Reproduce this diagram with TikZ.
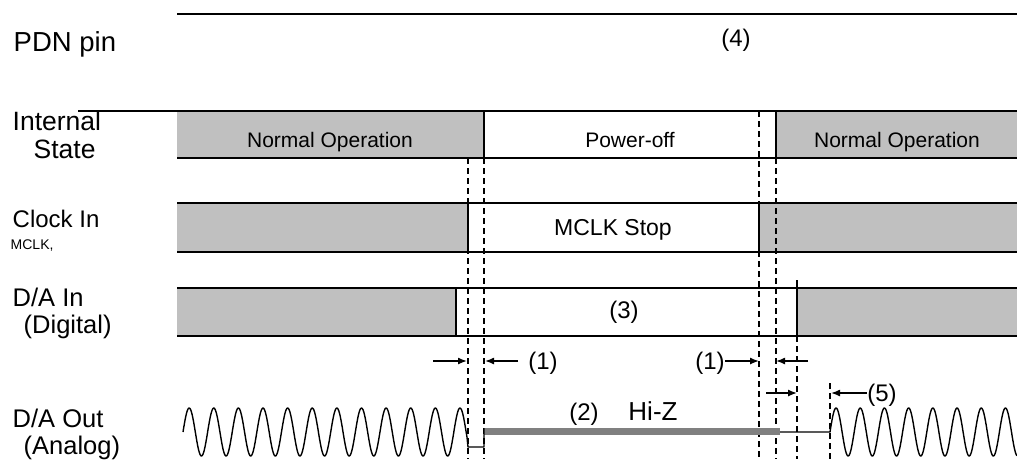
\documentclass[tikz,border=0pt]{standalone}
\usepackage{fontspec}
\setmainfont{Liberation Sans}
\usetikzlibrary{arrows.meta}
\definecolor{boxgray}{HTML}{C0C0C0}
\definecolor{hizgray}{HTML}{808080}

\begin{document}
\begin{tikzpicture}[x=1pt, y=-1pt, line width=1.4pt]
    \tikzstyle{lbl} += [inner sep=0pt, anchor=base west, font=\fontsize{25.5}{30}\selectfont];
    \tikzstyle{boxtxt} += [inner sep=0pt, anchor=base, font=\fontsize{21}{25}\selectfont];
    \tikzstyle{note} += [inner sep=0pt, font=\fontsize{24}{29}\selectfont];
    \tikzstyle{guide} += [dash pattern=on 6pt off 4pt, line width=1.2pt];
    \tikzstyle{dim} += [-{Latex[length=9pt, width=7pt]}, line width=1.4pt];
    \useasboundingbox (0,0) rectangle (1017,459);

    % signal names
    \node[lbl, font=\fontsize{27.5}{32}\selectfont] (pdn) at (13,51) {PDN pin};
    \node[lbl, font=\fontsize{26.5}{31}\selectfont] (intl) at (12,130) {Internal};
    \node[lbl, font=\fontsize{26.5}{31}\selectfont] (state) at (33,158) {State};
    \node[lbl, font=\fontsize{24}{29}\selectfont] (clk) at (12,227) {Clock In};
    \node[lbl, font=\fontsize{14}{17}\selectfont] (mclk) at (10,249) {MCLK,};
    \node[lbl] (dain) at (12,306) {D/A In};
    \node[lbl] (dig) at (23,333) {(Digital)};
    \node[lbl] (daout) at (12,427) {D/A Out};
    \node[lbl] (ana) at (23,454) {(Analog)};

    % shaded phases
    \fill[boxgray] (177,111) rectangle (484,158);
    \fill[boxgray] (776,111) rectangle (1017,158);
    \fill[boxgray] (177,203) rectangle (468,252);
    \fill[boxgray] (759,203) rectangle (1017,252);
    \fill[boxgray] (177,288) rectangle (456,336);
    \fill[boxgray] (797,288) rectangle (1017,336);

    \begin{scope}
      \draw[guide] (468,158) -- (468,459);
      \draw[guide] (484,158) -- (484,459);
      \draw[guide] (759,111) -- (759,459);
      \draw[guide] (776,158) -- (776,459);
      \draw[guide] (797,336) -- (797,459);
      \draw[guide] (830,383) -- (830,459);
    \end{scope}

    \draw (177,14) -- (1017,14);
    \draw (78,111) -- (1017,111);
    \draw (177,158) -- (1017,158);
    \draw (484,111) -- (484,158);
    \draw (776,111) -- (776,158);
    \draw (177,203) -- (1017,203);
    \draw (177,252) -- (1017,252);
    \draw (468,203) -- (468,252);
    \draw (759,203) -- (759,252);
    \draw (177,288) -- (1017,288);
    \draw (177,336) -- (1017,336);
    \draw (456,288) -- (456,336);
    \draw (797,280) -- (797,336);

    % analog output
    \draw[hizgray, line width=7pt] (484,431.5) -- (780,431.5);
    \draw[line join=round] plot[domain=183:467, samples=400] (\x,{432-24*sin(14.622*(\x-183))})
      -- (468,447) -- (484,447) -- (484,428);
    \draw[line join=round] (780,432) -- (830,432)
      -- plot[domain=830:1017, samples=300] (\x,{432-24*sin(14.876*(\x-830))});

    \node[boxtxt] (norm1) at (330,147) {Normal Operation};
    \node[boxtxt] (poff) at (630,147) {Power-off};
    \node[boxtxt] (norm2) at (897,147) {Normal Operation};
    \node[boxtxt, font=\fontsize{23}{28}\selectfont] (mstop) at (613,235) {MCLK Stop};
    \node[note] (four) at (736,40) {(4)};
    \node[note] (three) at (624,312) {(3)};
    \node[note] (oneL) at (543,363) {(1)};
    \node[note] (oneR) at (710,363) {(1)};
    \node[note] (two) at (584,414) {(2)};
    \node[note, anchor=base, font=\fontsize{26}{31}\selectfont] (hiz) at (653,420) {Hi-Z};
    \node[note] (five) at (882,395) {(5)};

    \coordinate (p1a) at (433,361);
    \coordinate (p1b) at (467,361);
    \coordinate (p2a) at (518,361);
    \coordinate (p2b) at (485,361);
    \coordinate (p3b) at (759,361);
    \coordinate (p4a) at (808,361);
    \coordinate (p4b) at (776,361);
    \coordinate (p5a) at (766,393);
    \coordinate (p5b) at (797,393);
    \coordinate (p6b) at (831,393);
    \draw[dim] (p1a) -- (p1b);
    \draw[dim] (p2a) -- (p2b);
    \draw[dim] (oneR.east |- p3b) -- (p3b);
    \draw[dim] (p4a) -- (p4b);
    \draw[dim] (p5a) -- (p5b);
    \draw[dim] (five.west |- p6b) -- (p6b);
\end{tikzpicture}
\end{document}
